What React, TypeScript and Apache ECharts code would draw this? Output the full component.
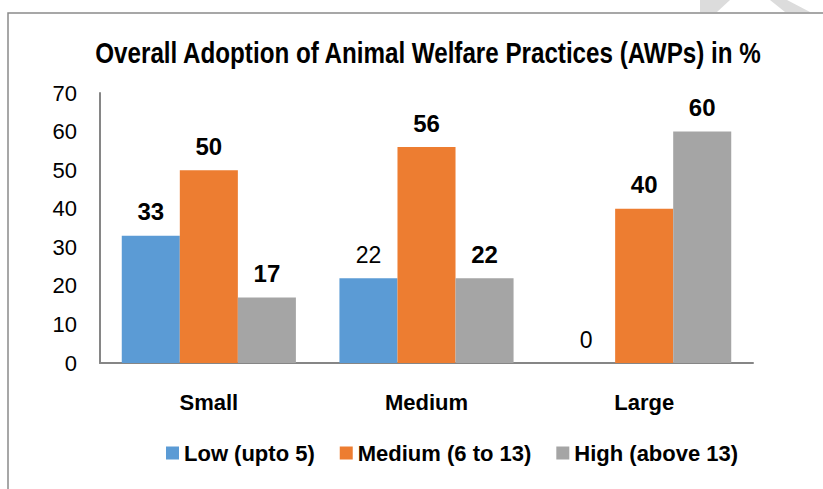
import React, { useEffect, useRef } from "react";
import * as echarts from "echarts";

const categories = ["Small", "Medium", "Large"];
const seriesNames = ["Low (upto 5)", "Medium (6 to 13)", "High (above 13)"];
const lowValues = [33, 22, 0];
const mediumValues = [50, 56, 40];
const highValues = [17, 22, 60];
const lowBold = [true, false, false];
const yTicks = [0, 10, 20, 30, 40, 50, 60, 70];
const titleText = "Overall Adoption of Animal Welfare Practices (AWPs) in %";

const FONT = "'Liberation Sans', Arial, sans-serif";
const colors = ["#5B9BD5", "#ED7D31", "#A5A5A5"];

export default function App() {
  const ref = useRef<HTMLDivElement>(null);
  useEffect(() => {
    if (!ref.current) return;
    const chart = echarts.init(ref.current, undefined, { renderer: "svg" });
    const labelBase = {
      show: true,
      position: "top" as const,
      distance: 12,
      fontFamily: FONT,
      fontSize: 24,
      fontWeight: "bold" as const,
      color: "#000",
    };
    chart.setOption({
      animation: false,
      backgroundColor: "#fff",
      color: colors,
      graphic: [
        {
          type: "polygon",
          shape: { points: [[700, 0], [730, 0], [717, 12], [700, 12]] },
          style: { fill: "#dcdcdc" },
          silent: true,
        },
        {
          type: "polygon",
          shape: { points: [[770, 0], [787, 0], [810, 12], [785, 12]] },
          style: { fill: "#dcdcdc" },
          silent: true,
        },
        {
          type: "polyline",
          shape: { points: [[8, 489], [8, 13], [823, 13]] },
          style: { stroke: "#8a8a8a", lineWidth: 1.5, fill: "none" },
          silent: true,
        },
        {
          type: "text",
          x: 428,
          y: 53,
          scaleX: 0.834,
          style: {
            text: titleText,
            fontFamily: FONT,
            fontSize: 29,
            fontWeight: "bold",
            fill: "#000",
            align: "center",
            verticalAlign: "middle",
          },
          silent: true,
        },
      ],
      legend: {
        data: seriesNames,
        left: 161,
        top: 437,
        itemWidth: 13,
        itemHeight: 13,
        itemGap: 25,
        icon: "rect",
        textStyle: { fontFamily: FONT, fontSize: 22, fontWeight: "bold", color: "#000" },
      },
      grid: { left: 100, right: 70, top: 93, bottom: 126, containLabel: false },
      xAxis: {
        type: "category",
        data: categories,
        axisLine: { show: true, lineStyle: { color: "#868686", width: 2 } },
        axisTick: { show: false },
        axisLabel: {
          margin: 28,
          fontFamily: FONT,
          fontSize: 22,
          fontWeight: "bold",
          color: "#000",
        },
      },
      yAxis: {
        type: "value",
        min: yTicks[0],
        max: yTicks[yTicks.length - 1],
        interval: 10,
        axisLine: { show: true, lineStyle: { color: "#868686", width: 2 } },
        axisTick: { show: false },
        splitLine: { show: false },
        axisLabel: {
          margin: 23,
          fontFamily: FONT,
          fontSize: 22,
          color: "#000",
        },
      },
      series: [
        {
          name: seriesNames[0],
          type: "bar",
          barGap: "0%",
          barCategoryGap: "20%",
          data: lowValues.map((v, i) => ({
            value: v,
            label: { fontWeight: lowBold[i] ? "bold" : "normal", fontSize: lowBold[i] ? 24 : 23 },
          })),
          label: labelBase,
        },
        {
          name: seriesNames[1],
          type: "bar",
          barGap: "0%",
          barCategoryGap: "20%",
          data: mediumValues,
          label: labelBase,
        },
        {
          name: seriesNames[2],
          type: "bar",
          barGap: "0%",
          barCategoryGap: "20%",
          data: highValues,
          label: labelBase,
        },
      ],
    });
    return () => chart.dispose();
  }, []);
  return (
    <div
      ref={ref}
      style={{ position: "fixed", left: 0, top: 0, width: 823, height: 489 }}
    />
  );
}
